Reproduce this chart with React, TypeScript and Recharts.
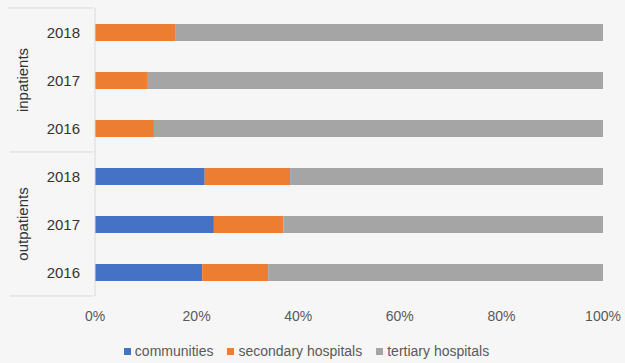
import React from 'react';
import { BarChart, Bar, XAxis, YAxis, Legend } from 'recharts';

const groups = ['inpatients', 'inpatients', 'inpatients', 'outpatients', 'outpatients', 'outpatients'];
const years = ['2018', '2017', '2016', '2018', '2017', '2016'];
const communities = [0, 0, 0, 21.6, 23.4, 21.1];
const secondary = [15.9, 10.4, 11.6, 16.8, 13.7, 13.0];
const tertiary = [84.1, 89.6, 88.4, 61.6, 62.9, 65.9];
const xTicks = [0, 20, 40, 60, 80, 100];

const seriesNames = ['communities', 'secondary hospitals', 'tertiary hospitals'];
const colors = ['#4472C4', '#ED7D31', '#A5A5A5'];

const data = years.map((y, i) => ({
  key: `${groups[i]}-${y}`,
  group: groups[i],
  year: y,
  communities: communities[i],
  secondary: secondary[i],
  tertiary: tertiary[i],
}));

const W = 625;
const H = 363;
const MARGIN = { top: 8, right: 22, bottom: 1, left: 0 };
const YW = 95;
const XH = 44;
const LEG_H = 22;
const PLOT_H = H - MARGIN.top - MARGIN.bottom - XH - LEG_H;
const BAND = PLOT_H / data.length;
const LINE = '#d9d9d9';
const FONT = 'Liberation Sans, Arial, sans-serif';

const YTick = (props: any) => {
  const { x, y, payload, index } = props;
  const i = payload.index ?? index;
  const d = data[i];
  const right = x + 6;
  const left = 8;
  const els: any[] = [];
  const firstOfGroup = i === 0 || groups[i - 1] !== groups[i];
  const lastOfGroup = i === data.length - 1 || groups[i + 1] !== groups[i];
  if (i === 0) {
    els.push(<line key="top" x1={left} x2={right} y1={y - BAND / 2} y2={y - BAND / 2} stroke={LINE} />);
  }
  if (lastOfGroup) {
    els.push(<line key="bot" x1={left + 2} x2={right} y1={y + BAND / 2} y2={y + BAND / 2} stroke={LINE} />);
  }
  if (firstOfGroup) {
    let n = 0;
    while (i + n < groups.length && groups[i + n] === groups[i]) n++;
    const cy = y + ((n - 1) * BAND) / 2;
    els.push(
      <text key="grp" x={22} y={cy} transform={`rotate(-90 22 ${cy})`} textAnchor="middle" dominantBaseline="central" fontSize={15} fill="#333333" fontFamily={FONT}>
        {groups[i]}
      </text>
    );
  }
  els.push(
    <text key="yr" x={80} y={y} textAnchor="end" dominantBaseline="central" fontSize={15} fill="#333333" fontFamily={FONT}>
      {d ? d.year : ''}
    </text>
  );
  return <g>{els}</g>;
};

const LegendContent = () => (
  <div style={{ height: LEG_H, display: 'flex', justifyContent: 'center', alignItems: 'center', fontFamily: FONT, fontSize: 14, color: '#595959', paddingLeft: 10 }}>
    {seriesNames.map((n, i) => (
      <div key={n} style={{ display: 'flex', alignItems: 'center', marginRight: i < 2 ? 14 : 0 }}>
        <span style={{ display: 'inline-block', width: 7, height: 7, background: colors[i], marginRight: 4 }} />
        <span>{n}</span>
      </div>
    ))}
  </div>
);

export default function App() {
  return (
    <div style={{ position: 'absolute', left: 0, top: 0, width: W, height: H, background: '#f6f6f6' }}>
      <BarChart width={W} height={H} data={data} layout="vertical" margin={MARGIN} barSize={17}>
        <XAxis
          type="number"
          domain={[0, 100]}
          ticks={xTicks}
          tickFormatter={(v: number) => `${v}%`}
          axisLine={false}
          tickLine={false}
          height={XH}
          tickMargin={9}
          interval={0}
          tick={{ fontSize: 14, fill: '#595959', fontFamily: FONT }}
        />
        <YAxis
          type="category"
          dataKey="key"
          width={YW}
          axisLine={{ stroke: LINE }}
          tickLine={false}
          tick={<YTick />}
          interval={0}
        />
        <Legend verticalAlign="bottom" height={LEG_H} content={<LegendContent />} />
        <Bar dataKey="communities" name={seriesNames[0]} stackId="a" fill={colors[0]} isAnimationActive={false} />
        <Bar dataKey="secondary" name={seriesNames[1]} stackId="a" fill={colors[1]} isAnimationActive={false} />
        <Bar dataKey="tertiary" name={seriesNames[2]} stackId="a" fill={colors[2]} isAnimationActive={false} />
      </BarChart>
    </div>
  );
}
